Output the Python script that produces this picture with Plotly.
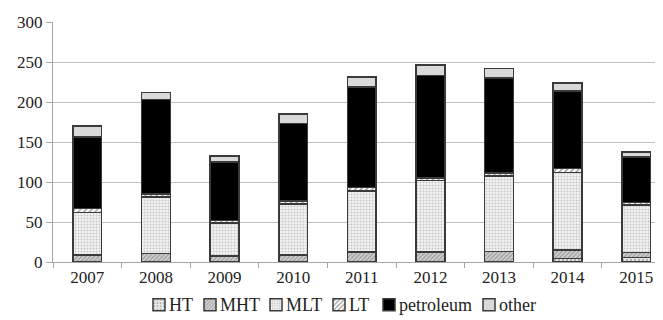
import plotly.graph_objects as go

years = ["2007", "2008", "2009", "2010", "2011", "2012", "2013", "2014", "2015"]
HT = [0, 0, 0, 0, 0, 0, 0, 4.6, 5.4]
MHT = [8.75, 10.8, 7.5, 9, 12.5, 12.5, 13.3, 10.4, 6.6]
MLT = [52.9, 70.2, 41.5, 63.5, 76.5, 89.1, 94.2, 97, 59]
LT = [5.4, 4, 3, 3.5, 4, 3.4, 3.5, 5, 3.6]
petroleum = [89, 118, 73, 97, 126, 128, 119, 97, 56.4]
other = [14, 9, 7.5, 12, 12, 13, 12, 10, 6.5]
y_ticks = [0, 50, 100, 150, 200, 250, 300]

FONT = "Liberation Serif"
edge = dict(color="#3a3a3a", width=1.5)

# page has an 8px body margin; figure is sized to fit the 663x320 window
W, H = 655, 312
ML, MT, MB, MR = 45, 14, 58, 0
PW = W - ML - MR
PH = H - MT - MB

series = [
    ("HT", HT, dict(color="#d9d9d9", line=edge,
                    pattern=dict(shape=".", fgcolor="#555555", bgcolor="#e6e6e6", size=4, solidity=0.2))),
    ("MHT", MHT, dict(color="#bfbfbf", line=edge,
                      pattern=dict(shape="/", fgcolor="#555555", bgcolor="#d0d0d0", size=3, solidity=0.35))),
    ("MLT", MLT, dict(color="#e0e0e0", line=edge,
                      pattern=dict(shape=".", fgcolor="#9a9a9a", bgcolor="#f2f2f2", size=3, solidity=0.35))),
    ("LT", LT, dict(color="#ffffff", line=edge,
                    pattern=dict(shape="/", fgcolor="#222222", bgcolor="#ffffff", size=4, solidity=0.35))),
    ("petroleum", petroleum, dict(color="#000000", line=edge)),
    ("other", other, dict(color="#d9d9d9", line=edge)),
]
# page x of legend text starts (as in the reference); swatch sits just left of each
text_x = [168, 219, 285, 348, 398, 498]
icon_x = [t - 9 for t in text_x]
legend_y_page = 305

fig = go.Figure()
legend_layout = {}
annotations = []
y_leg = -((legend_y_page - 8) - (MT + PH)) / PH
for i, ((name, vals, marker), ix, tx) in enumerate(zip(series, icon_x, text_x)):
    lname = "legend" if i == 0 else f"legend{i+1}"
    # legend entry shows only the swatch; its label is drawn as an annotation right next to it
    fig.add_trace(go.Bar(x=years, y=vals, name="", marker=marker, legend=lname,
                         legendgroup=name, hovertemplate=name + ": %{y}<extra></extra>"))
    left_fig = ix - 8 - 20
    legend_layout[lname] = dict(
        x=(left_fig - ML) / PW, xanchor="left", xref="paper",
        y=y_leg, yanchor="middle", yref="paper",
        orientation="h", font=dict(family=FONT, size=18, color="#222222"),
        itemwidth=30, bgcolor="rgba(0,0,0,0)", borderwidth=0,
    )
    annotations.append(dict(
        text=name, x=(tx - 8 - ML) / PW, xref="paper", xanchor="left",
        y=y_leg, yref="paper", yanchor="middle", showarrow=False,
        font=dict(family=FONT, size=18, color="#222222"), borderpad=0,
    ))

fig.update_layout(
    width=W, height=H,
    barmode="stack", bargap=0.58,
    plot_bgcolor="white", paper_bgcolor="white",
    margin=dict(l=ML, r=MR, t=MT, b=MB, autoexpand=False),
    font=dict(family=FONT, size=17, color="#222222"),
    showlegend=True,
    annotations=annotations,
    **legend_layout,
)
fig.update_xaxes(type="category", range=[-0.5, 8.39], showline=True, linecolor="#a6a6a6", linewidth=1,
                 ticks="outside", tickson="boundaries", ticklen=5, tickcolor="#a6a6a6",
                 showgrid=False, tickfont=dict(family=FONT, size=17))
fig.update_yaxes(range=[0, 300], tickvals=y_ticks, showline=True, linecolor="#a6a6a6", linewidth=1,
                 ticks="outside", ticklen=6, tickcolor="#a6a6a6",
                 showgrid=True, gridcolor="#bfbfbf", gridwidth=1, zeroline=False,
                 tickfont=dict(family=FONT, size=17))

fig.write_html("out.html")
